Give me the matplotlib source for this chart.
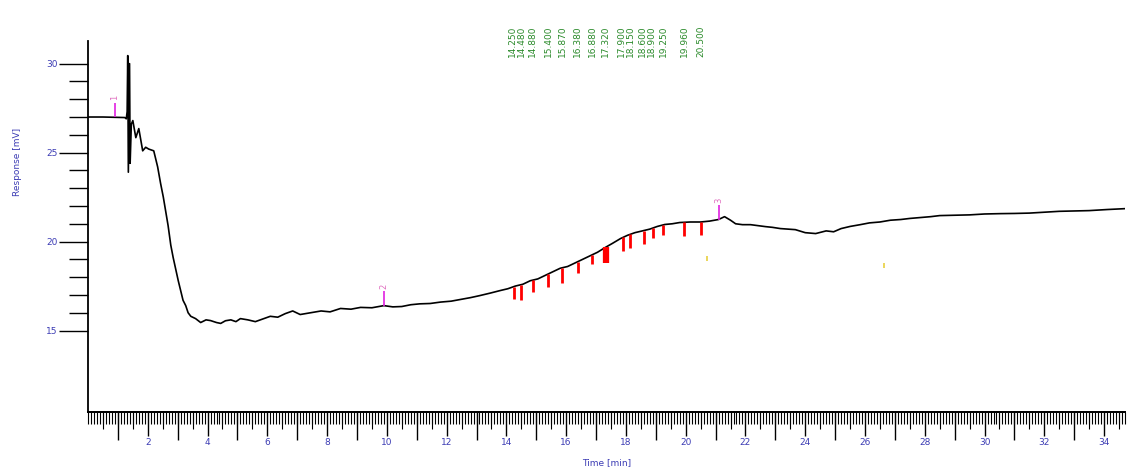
import matplotlib.pyplot as plt
import numpy as np
from matplotlib.ticker import FixedLocator
from matplotlib.transforms import blended_transform_factory

# trace (time in min, response in mV)
time_min = [0.0, 0.5, 1.0, 1.23, 1.28, 1.31, 1.33, 1.35, 1.37, 1.39, 1.41, 1.45,
            1.5, 1.6, 1.7, 1.83, 1.93, 2.03, 2.2, 2.33, 2.43, 2.52, 2.6, 2.68,
            2.77, 2.85, 2.94, 3.02, 3.1, 3.18, 3.27, 3.35, 3.44, 3.6, 3.77, 3.95,
            4.1, 4.3, 4.44, 4.6, 4.78, 4.95, 5.1, 5.35, 5.6, 5.85, 6.1, 6.35,
            6.6, 6.85, 7.1, 7.45, 7.8, 8.1, 8.45, 8.8, 9.12, 9.5, 9.9, 10.2,
            10.5, 10.8, 11.1, 11.45, 11.8, 12.15, 12.47, 12.8, 13.1, 13.45, 13.8,
            14.05, 14.3, 14.55, 14.8, 15.05, 15.3, 15.55, 15.8, 16.05, 16.3,
            16.55, 16.8, 17.05, 17.3, 17.55, 17.82, 18.05, 18.3, 18.55, 18.8,
            19.05, 19.3, 19.55, 19.8, 20.15, 20.5, 20.8, 21.1, 21.3, 21.5, 21.67,
            21.9, 22.17, 22.4, 22.67, 22.9, 23.17, 23.4, 23.67, 24.0, 24.35, 24.7,
            24.95, 25.2, 25.5, 25.84, 26.15, 26.5, 26.85, 27.2, 27.5, 27.85,
            28.2, 28.5, 29.0, 29.5, 30.0, 30.53, 31.0, 31.5, 32.0, 32.5, 33.0,
            33.5, 34.1, 34.7]
response_mv = [27.0, 27.0, 26.98, 26.97, 26.9, 27.3, 30.45, 23.9, 26.9, 30.0, 24.4, 26.6,
               26.8, 25.84, 26.35, 25.1, 25.3, 25.2, 25.1, 24.2, 23.26, 22.5, 21.7, 20.9,
               19.8, 19.1, 18.4, 17.8, 17.25, 16.7, 16.4, 16.0, 15.8, 15.67, 15.45, 15.6,
               15.56, 15.45, 15.4, 15.55, 15.6, 15.5, 15.67, 15.6, 15.5, 15.65, 15.8, 15.75,
               15.95, 16.1, 15.9, 16.0, 16.1, 16.05, 16.24, 16.2, 16.3, 16.28, 16.4, 16.33,
               16.35, 16.45, 16.5, 16.52, 16.6, 16.65, 16.75, 16.85, 16.96, 17.1, 17.25,
               17.35, 17.5, 17.6, 17.8, 17.9, 18.1, 18.3, 18.5, 18.6, 18.8,
               19.0, 19.2, 19.4, 19.66, 19.9, 20.17, 20.35, 20.5, 20.6, 20.7,
               20.85, 20.96, 21.0, 21.07, 21.1, 21.1, 21.15, 21.24, 21.4, 21.2, 21.0,
               20.95, 20.95, 20.9, 20.84, 20.8, 20.73, 20.7, 20.67, 20.5, 20.45, 20.6,
               20.55, 20.73, 20.85, 20.95, 21.05, 21.1, 21.2, 21.24, 21.3, 21.35,
               21.4, 21.46, 21.48, 21.5, 21.55, 21.57, 21.58, 21.6, 21.65, 21.7, 21.72,
               21.74, 21.8, 21.85]

# integrated peaks (red) and their labels (green)
peak_times = [14.25, 14.48, 14.88, 15.4, 15.87, 16.38, 16.88, 17.32,
              17.9, 18.15, 18.6, 18.9, 19.25, 19.96, 20.5]
peak_depths = [0.7, 0.85, 0.65, 0.75, 0.85, 0.65, 0.5, 0.9,
               0.75, 0.75, 0.75, 0.55, 0.55, 0.75, 0.75]
peak_widths = [2, 2, 2, 2, 2, 2, 2, 4.5, 2, 2, 2, 2, 2, 2, 2]

# event markers
event_times = [0.9, 9.9, 21.1]
event_labels = ["1", "2", "3"]
yellow_times = [20.7, 26.65]
yellow_values = [19.2, 18.8]

blue = "#3c3cb4"

fig = plt.figure(figsize=(11.29, 4.72), dpi=100)
ax = fig.add_axes([88 / 1129, 60.5 / 472, 1037 / 1129, 371 / 472])

ax.plot(time_min, response_mv, color="black", lw=1.2)

peak_base = np.interp(peak_times, time_min, response_mv)
ax.vlines(peak_times, peak_base - np.array(peak_depths), peak_base,
          color="red", lw=peak_widths)

ev_base = np.interp(event_times, time_min, response_mv)
ax.vlines(event_times, ev_base, ev_base + 0.8, color="#e020e0", lw=1.2)
for t, b, lab in zip(event_times, ev_base, event_labels):
    ax.text(t, b + 0.95, lab, color="#e070c0", fontsize=6, ha="center",
            va="bottom", rotation=90)
ax.vlines(yellow_times, np.array(yellow_values) - 0.3, yellow_values,
          color="#e8d040", lw=1.2)

# green peak labels, spread a little where neighbours are too close
trans = blended_transform_factory(ax.transData, ax.transAxes)
label_x = list(peak_times)
for i in range(1, len(label_x)):
    if label_x[i] - label_x[i - 1] < 0.3:
        label_x[i - 1] -= 0.06
        label_x[i] = label_x[i - 1] + 0.3
for t, lx in zip(peak_times, label_x):
    ax.text(lx, 0.955, f"{t:.3f}", transform=trans, rotation=90, fontsize=6.5,
            color="#2a8a2a", ha="center", va="bottom", clip_on=False)

ax.set_xlim(0, 34.7)
ax.set_ylim(10.45, 31.3)

for s in ["top", "right"]:
    ax.spines[s].set_visible(False)
for s in ["left", "bottom"]:
    ax.spines[s].set_linewidth(1.3)

ax.xaxis.set_major_locator(FixedLocator(np.arange(2, 35, 2)))
ax.xaxis.set_minor_locator(FixedLocator(np.arange(0, 34.75, 0.1)))
ax.tick_params(axis="x", which="major", length=17, width=1.0, pad=2,
               labelsize=6.5, labelcolor=blue)
ax.tick_params(axis="x", which="minor", length=8.5, width=0.8)

sec = ax.secondary_xaxis("bottom")
sec.xaxis.set_major_locator(FixedLocator(np.arange(1, 35, 2)))
sec.xaxis.set_minor_locator(FixedLocator(np.arange(0.5, 34.75, 1)))
sec.tick_params(axis="x", which="major", length=20, width=1.0, labelbottom=False)
sec.tick_params(axis="x", which="minor", length=12, width=0.8)
sec.spines["bottom"].set_linewidth(1.3)

ax.yaxis.set_major_locator(FixedLocator([15, 20, 25, 30]))
ax.yaxis.set_minor_locator(FixedLocator(np.arange(15, 31, 1)))
ax.tick_params(axis="y", which="major", length=21, width=1.0, pad=1,
               labelsize=6.5, labelcolor=blue)
ax.tick_params(axis="y", which="minor", length=13.5, width=1.0)

fig.text(17 / 1129, 1 - 162 / 472, "Response [mV]", rotation=90, color=blue,
         fontsize=6.5, ha="center", va="center")
fig.text(607 / 1129, 1 - 463 / 472, "Time [min]", color=blue, fontsize=6.5,
         ha="center", va="center")

fig.savefig("out.png", dpi=100)
